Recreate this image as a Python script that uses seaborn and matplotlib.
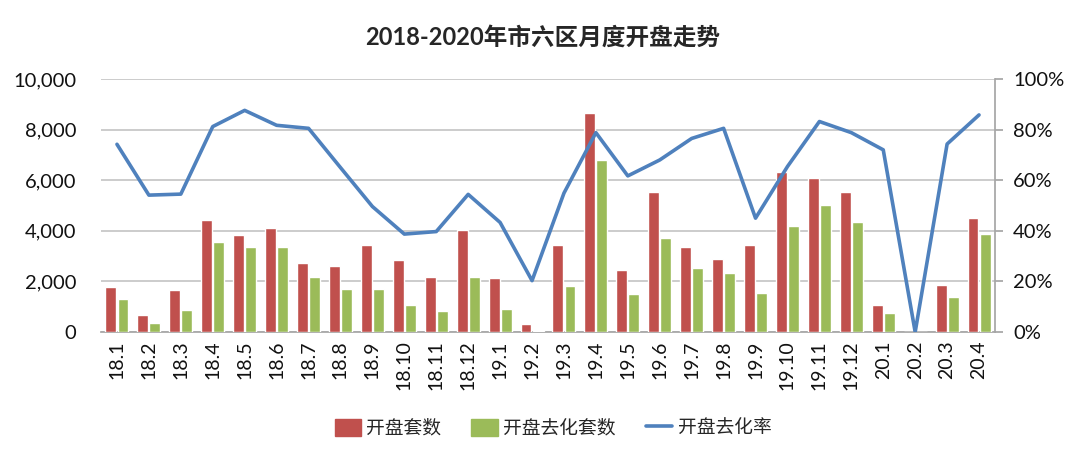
import matplotlib
matplotlib.use("Agg")
import matplotlib.pyplot as plt
import seaborn as sns
import pandas as pd
import numpy as np
from matplotlib.ticker import FuncFormatter
from matplotlib.patches import Patch
from matplotlib.lines import Line2D

months = ["18.1", "18.2", "18.3", "18.4", "18.5", "18.6", "18.7", "18.8", "18.9", "18.10",
          "18.11", "18.12", "19.1", "19.2", "19.3", "19.4", "19.5", "19.6", "19.7", "19.8",
          "19.9", "19.10", "19.11", "19.12", "20.1", "20.2", "20.3", "20.4"]
opened = [1770, 690, 1660, 4430, 3820, 4130, 2710, 2610, 3450, 2850,
          2170, 4040, 2150, 320, 3450, 8650, 2460, 5530, 3360, 2900,
          3420, 6340, 6090, 5530, 1070, 0, 1840, 4500]
sold = [1300, 340, 880, 3570, 3360, 3360, 2170, 1690, 1710, 1080,
        840, 2170, 910, 50, 1830, 6800, 1500, 3720, 2540, 2340,
        1530, 4170, 5030, 4360, 750, 0, 1380, 3860]
rate = [74.2, 54.1, 54.5, 81.2, 87.6, 81.7, 80.5, 65.0, 49.6, 38.7,
        39.7, 54.4, 43.3, 20.3, 54.9, 78.8, 61.7, 68.0, 76.5, 80.5,
        45.0, 65.4, 83.2, 78.8, 72.0, 0.0, 74.3, 85.8]

series_names = ["开盘套数", "开盘去化套数", "开盘去化率"]
colors = ["#C0504D", "#9BBB59", "#4F81BD"]

sns.set_theme(style="white")
plt.rcParams['font.family'] = ['Lato', 'Noto Sans CJK SC', 'DejaVu Sans']

df = pd.DataFrame({
    "month": months * 2,
    "value": opened + sold,
    "series": [series_names[0]] * len(months) + [series_names[1]] * len(months),
})

fig = plt.figure(figsize=(10.8, 4.61), dpi=100)
ax = fig.add_axes([101 / 1080, 1 - 332 / 461, (995 - 101) / 1080, (332 - 79) / 461])

sns.barplot(data=df, x="month", y="value", hue="series", order=months,
            hue_order=series_names[:2], palette=colors[:2], width=0.76, gap=0.1,
            saturation=1, legend=False, ax=ax, zorder=3)

ax.set_ylim(0, 10000)
ax.set_xlim(-0.5, len(months) - 0.5)
ax.set_yticks(np.arange(0, 10001, 2000))
ax.yaxis.set_major_formatter(FuncFormatter(lambda v, p: f"{int(v):,}"))
ax.grid(axis="y", color="#BEBEBE", linewidth=1.1, zorder=0)
ax.set_axisbelow(True)
ax.set_xlabel("")
ax.set_ylabel("")
for s in ["left", "top", "right"]:
    ax.spines[s].set_visible(False)
ax.spines["bottom"].set_color("#A6A6A6")
ax.tick_params(axis="y", labelsize=14.5, length=0, pad=18, labelcolor="#111111")
ax.tick_params(axis="x", labelsize=14, rotation=90, length=0, pad=6, labelcolor="#111111")

ax2 = ax.twinx()
sns.lineplot(x=months, y=rate, ax=ax2, color=colors[2], linewidth=2.6, sort=False)
ax2.set_ylim(0, 100)
ax2.set_yticks(np.arange(0, 101, 20))
ax2.yaxis.set_major_formatter(FuncFormatter(lambda v, p: f"{int(v)}%"))
ax2.tick_params(axis="y", labelsize=14.5, length=6, color="#A6A6A6", pad=7, labelcolor="#111111")
for s in ["left", "top", "bottom"]:
    ax2.spines[s].set_visible(False)
ax2.spines["right"].set_color("#A6A6A6")
ax2.set_ylabel("")
ax2.grid(False)

fig.suptitle("2018-2020年市六区月度开盘走势", x=0.502, y=0.945, fontsize=17, fontweight="bold")

handles = [Patch(color=colors[0]), Patch(color=colors[1]),
           Line2D([0], [0], color=colors[2], linewidth=2.6)]
fig.legend(handles, series_names, loc="center", bbox_to_anchor=(0.512, 0.072), ncol=3,
           frameon=False, fontsize=13.5, handlelength=1.4, handleheight=1.0,
           columnspacing=1.6, handletextpad=0.3)

fig.savefig("out.png", dpi=100)
